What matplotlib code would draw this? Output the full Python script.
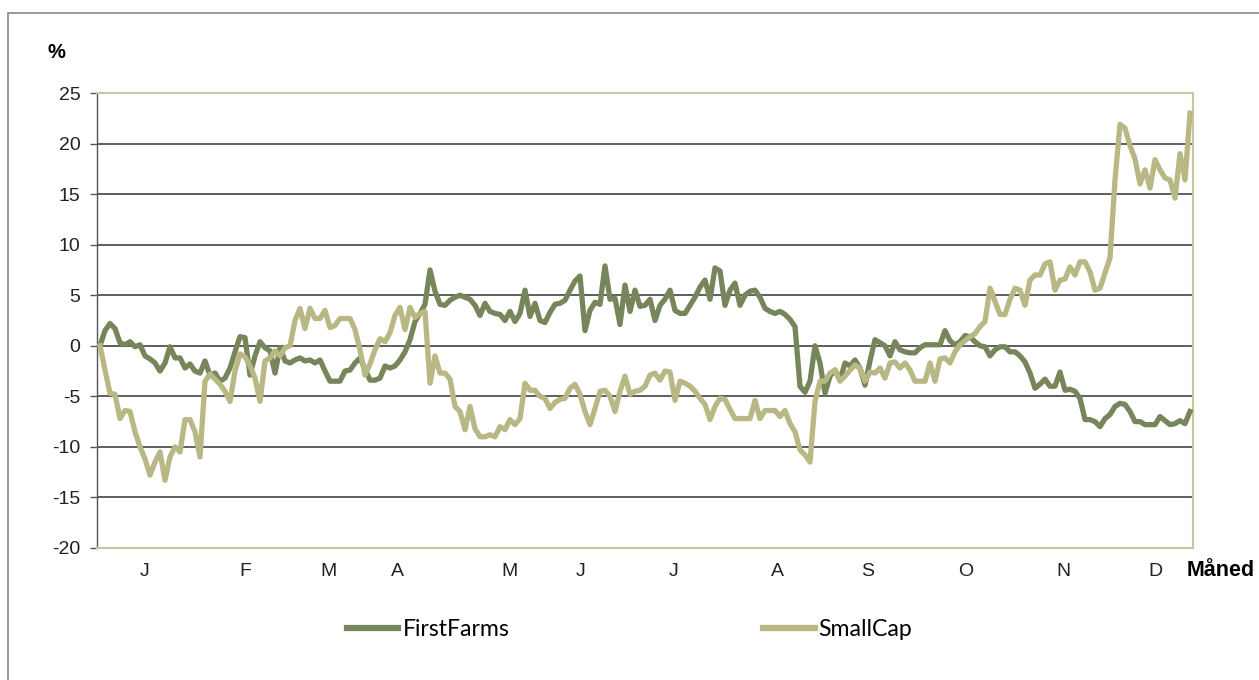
import matplotlib
matplotlib.use("Agg")
import matplotlib.pyplot as plt
from matplotlib.patches import Rectangle

# ---------------- data (% change) ----------------
firstfarms = [
    0.0, 1.5, 2.2, 1.7, 0.3, 0.1, 0.4, -0.1, 0.1, -1.0, -1.3, -1.7, -2.5, -1.7, -0.1, -1.2, -1.2, -2.2, -1.8,
    -2.5, -2.7, -1.5, -2.9, -2.7, -3.5, -3.2, -2.2, -0.6, 0.9, 0.8, -2.9, -1.0, 0.4, -0.2, -0.5, -2.7, -0.2,
    -1.5, -1.7, -1.4, -1.2, -1.5, -1.4, -1.7, -1.4, -2.5, -3.5, -3.5, -3.5, -2.5, -2.4, -1.7, -1.2, -2.3, -3.4,
    -3.4, -3.2, -2.0, -2.2, -2.0, -1.4, -0.6, 0.6, 2.4, 3.2, 4.1, 7.5, 5.4, 4.1, 4.0, 4.5, 4.8, 5.0, 4.8,
    4.6, 4.0, 3.0, 4.2, 3.4, 3.2, 3.1, 2.5, 3.4, 2.4, 3.2, 5.5, 2.9, 4.2, 2.5, 2.3, 3.3, 4.1, 4.2,
    4.5, 5.5, 6.4, 6.9, 1.5, 3.5, 4.3, 4.1, 7.9, 4.6, 4.7, 2.1, 6.0, 3.4, 5.5, 3.9, 4.0, 4.6,
    2.5, 4.0, 4.6, 5.5, 3.5, 3.2, 3.2, 4.0, 4.8, 5.8, 6.5, 4.6, 7.7, 7.4, 4.0, 5.5, 6.2, 4.0, 5.0,
    5.4, 5.5, 4.8, 3.7, 3.4, 3.2, 3.4, 3.1, 2.6, 1.9, -4.0, -4.6, -3.5, 0.0, -1.7, -4.7, -3.0, -2.4,
    -3.4, -1.7, -2.0, -1.4, -2.2, -3.9, -1.5, 0.6, 0.3, 0.0, -1.0, 0.4, -0.4, -0.6, -0.7, -0.7, -0.2,
    0.1, 0.1, 0.1, 0.1, 1.5, 0.5, 0.1, 0.4, 1.0, 0.9, 0.4, 0.0, -0.1, -1.0, -0.4, -0.1, -0.1, -0.6, -0.6, -1.0,
    -1.6, -2.7, -4.2, -3.8, -3.3, -4.0, -4.0, -2.6, -4.4, -4.3, -4.5, -5.2, -7.3, -7.3, -7.5, -8.0, -7.2,
    -6.8, -6.0, -5.7, -5.8, -6.5, -7.5, -7.5, -7.8, -7.8, -7.8, -7.0, -7.4, -7.8, -7.7, -7.4, -7.7, -6.5,
]

smallcap = [
    0.0, -2.4, -4.7, -4.8, -7.2, -6.4, -6.5, -8.5, -10.0, -11.2, -12.8, -11.5, -10.5, -13.3, -11.0, -10.0,
    -10.5, -7.3, -7.3, -8.5, -11.0, -3.5, -2.8, -3.3, -3.8, -4.5, -5.5, -2.5, -0.8, -1.1, -2.0, -3.2, -5.5,
    -1.5, -1.2, -0.5, -1.0,
    -0.2, 0.0, 2.5, 3.7, 1.7, 3.7, 2.7, 2.7, 3.5, 1.8, 2.0, 2.7, 2.7, 2.7, 1.6, -0.4, -2.9, -1.8, -0.4,
    0.7, 0.4, 1.3, 3.0, 3.8, 1.6, 3.8, 2.8, 3.2, 3.4, -3.7, -1.0, -2.7, -2.7, -3.3, -6.0, -6.5, -8.3,
    -6.0, -8.2, -9.0, -9.0, -8.8, -9.0, -8.0, -8.3, -7.3, -7.8, -7.2, -3.7, -4.4, -4.4, -5.0, -5.2, -6.2,
    -5.6, -5.3, -5.2, -4.2, -3.8, -4.8, -6.5, -7.8, -6.2, -4.5, -4.4, -5.0, -6.5, -4.5, -3.0, -4.8, -4.5,
    -4.4, -4.0, -2.9,
    -2.7, -3.4, -2.5, -2.6, -5.4, -3.5, -3.7, -4.0, -4.5, -5.2, -5.8, -7.3, -6.0, -5.2, -5.3, -6.3, -7.2,
    -7.2, -7.2, -7.2, -5.4, -7.2, -6.4, -6.4, -6.4, -7.0, -6.4, -7.7, -8.5, -10.3, -10.8, -11.5, -5.5,
    -3.5, -3.5, -2.7, -2.4,
    -3.5, -3.0, -2.4, -1.9, -2.2, -3.5, -2.6, -2.7, -2.2, -3.2, -1.7, -1.6, -2.2, -1.7, -2.4, -3.5, -3.5,
    -3.5, -1.7, -3.5, -1.3, -1.2, -1.7, -0.6, 0.1, 0.5, 0.9, 1.2, 1.9, 2.4, 5.7, 4.4, 3.1, 3.1, 4.6, 5.7, 5.5,
    4.0, 6.5, 7.0, 7.0, 8.1, 8.3, 5.5, 6.5, 6.6, 7.8, 7.0, 8.3, 8.3, 7.3, 5.5, 5.7, 7.2, 8.7, 16.4, 21.9,
    21.5, 19.8, 18.5, 16.0, 17.4, 15.6, 18.4, 17.4, 16.6, 16.4, 14.6, 19.0, 16.4, 23.0,
]

days = list(range(len(firstfarms)))
month_labels = ['J', 'F', 'M', 'A', 'M', 'J', 'J', 'A', 'S', 'O', 'N', 'D']
month_pos = [9.0, 29.0, 45.6, 59.4, 81.8, 96.2, 114.8, 135.4, 153.6, 173.2, 192.6, 211.0]
yticks = list(range(-20, 30, 5))

# ---------------- style ----------------
c_ff = '#76855a'
c_sc = '#b9b784'
c_frame = '#c9c79a'

plt.rcParams['font.family'] = ['Liberation Sans', 'DejaVu Sans']

fig = plt.figure(figsize=(12.59, 6.80), dpi=100)
ax = fig.add_axes([97 / 1259, 132 / 680, 1096 / 1259, 455 / 680])

ax.plot(days, firstfarms, color=c_ff, lw=3.8, solid_joinstyle='round', label='FirstFarms', zorder=3)
ax.plot(days, smallcap, color=c_sc, lw=3.8, solid_joinstyle='round', label='SmallCap', zorder=3)

ax.set_xlim(-0.6, 218.6)
ax.set_ylim(-20, 25)
ax.set_yticks(yticks)
ax.set_yticklabels([str(v) for v in yticks], fontsize=14, color='#222222')
ax.set_xticks(month_pos)
ax.set_xticklabels(month_labels, fontsize=14, color='#222222')
ax.tick_params(axis='x', length=0, pad=11)
ax.tick_params(axis='y', length=5, width=1, color='#555555', pad=7, direction='out')

for v in yticks[1:-1]:
    ax.axhline(v, color='#333333', lw=1.1, zorder=1)

ax.spines['left'].set_color('#555555')
ax.spines['left'].set_linewidth(1.0)
for s in ['top', 'right', 'bottom']:
    ax.spines[s].set_color(c_frame)
    ax.spines[s].set_linewidth(1.5)

fig.text(47 / 1259, 1 - 52 / 680, '%', fontsize=14.5, fontweight='bold', va='center', ha='left')
fig.text(1187 / 1259, 1 - 571 / 680, 'Måned', fontsize=15.5, fontweight='bold', va='center', ha='left')

# outer chart frame
fig.add_artist(Rectangle((8 / 1259, -0.1), 1.2, 1 - 13 / 680 + 0.1, transform=fig.transFigure,
                         fill=False, edgecolor='#888888', lw=1.2, clip_on=False))

leg = fig.legend(loc='center', bbox_to_anchor=(629.5 / 1259, 1 - 630 / 680), ncol=2, frameon=False,
                 prop={'family': 'Lato', 'size': 16.6}, handlelength=2.25, handletextpad=0.17,
                 columnspacing=11.0)
for h in leg.get_lines():
    h.set_linewidth(4.5)

fig.savefig('out.png', dpi=100)
